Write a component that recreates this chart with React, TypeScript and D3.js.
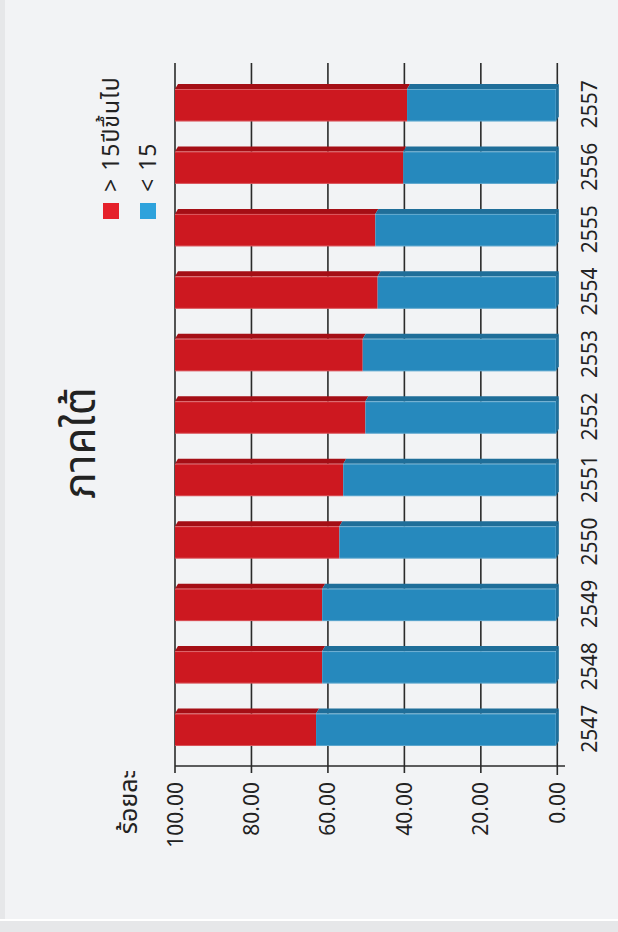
import React from "react";
import * as d3 from "d3";

const categories = ["2547", "2548", "2549", "2550", "2551", "2552", "2553", "2554", "2555", "2556", "2557"];
const under15 = [63.1, 61.5, 61.5, 57.0, 56.0, 50.2, 50.9, 47.0, 47.6, 40.3, 39.3];
const valueTicks = [0, 20, 40, 60, 80, 100];
const seriesNames = ["> 15ปีขึ้นไป", "< 15"];
const titleText = "ภาคใต้";
const axisTitle = "ร้อยละ";

const W = 618;
const H = 932;
const FONT = "'Noto Sans', 'Noto Sans Thai', 'Open Sans', sans-serif";

export default function App() {
  const x = d3.scaleLinear().domain([0, 100]).range([557.3, 175]);
  const y = d3
    .scaleBand<string>()
    .domain([...categories].reverse())
    .range([74, 761])
    .paddingInner(0.48)
    .paddingOuter(0.24);
  const bw = y.bandwidth();
  const dx = 3;
  const dy = -5;

  const redMain = "#cd1820";
  const redDark = "#a50e15";
  const blueMain = "#2689bd";
  const blueDark = "#1f6e99";

  const para = (x0: number, x1: number, yt: number) =>
    `M${x0},${yt} L${x1},${yt} L${x1 + dx},${yt + dy} L${x0 + dx},${yt + dy} Z`;

  return (
    <svg
      width={W}
      height={H}
      style={{ position: "absolute", left: 0, top: 0, display: "block" }}
      fontFamily={FONT}
    >
      <rect x={0} y={0} width={W} height={H} fill="#f2f3f5" />
      <rect x={0} y={0} width={5} height={H} fill="#e6e7e9" />
      <rect x={0} y={919} width={W} height={2} fill="#ffffff" />
      <rect x={0} y={921} width={W} height={H - 921} fill="#e6e7e9" />

      {/* gridlines */}
      {valueTicks.map((t) => (
        <line
          key={"g" + t}
          x1={x(t)}
          x2={x(t)}
          y1={63}
          y2={t === 0 ? 775 : 773}
          stroke="#2a2a2a"
          strokeWidth={1.6}
        />
      ))}
      <line x1={x(100)} x2={565} y1={766} y2={766} stroke="#2a2a2a" strokeWidth={1.6} />

      {/* bars */}
      {categories.map((c, i) => {
        const yt = y(c)!;
        const xb = x(under15[i]);
        const x0 = x(100);
        const xz = x(0) - 1.5;
        return (
          <g key={c}>
            <path d={para(x0, xb, yt)} fill={redDark} />
            <path d={para(xb, xz, yt)} fill={blueDark} />
            <path
              d={`M${xz},${yt} L${xz + dx},${yt + dy} L${xz + dx},${yt + bw + dy} L${xz},${yt + bw} Z`}
              fill={blueDark}
            />
            <rect x={x0} y={yt} width={xb - x0} height={bw} fill={redMain} />
            <rect x={xb} y={yt} width={xz - xb} height={bw} fill={blueMain} />
            <line x1={x0} x2={xz} y1={yt + 0.5} y2={yt + 0.5} stroke="#ffffff" strokeOpacity={0.3} strokeWidth={1} />
            <line x1={x0} x2={xz} y1={yt + bw - 0.5} y2={yt + bw - 0.5} stroke="#ffffff" strokeOpacity={0.25} strokeWidth={1} />
          </g>
        );
      })}

      {/* value tick labels */}
      {valueTicks.map((t) => (
        <text
          key={"t" + t}
          transform={`translate(${x(t)},782) rotate(-90)`}
          textAnchor="end"
          dy="0.36em"
          fontSize={21}
          fill="#222"
        >
          {d3.format(".2f")(t)}
        </text>
      ))}

      {/* category labels */}
      {categories.map((c) => (
        <text
          key={"c" + c}
          transform={`translate(597,${y(c)! + bw / 2 - 1}) rotate(-90)`}
          textAnchor="middle"
          fontSize={21}
          fill="#222"
        >
          {c}
        </text>
      ))}

      {/* axis title */}
      <text
        transform={`translate(137,770) rotate(-90)`}
        textAnchor="end"
        fontSize={25}
        fill="#222"
      >
        {axisTitle}
      </text>

      {/* chart title */}
      <text
        transform={`translate(95,443) rotate(-90)`}
        textAnchor="middle"
        fontSize={44}
        fill="#222"
      >
        {titleText}
      </text>

      {/* legend */}
      {seriesNames.map((s, i) => {
        const cx = 111 + i * 37;
        return (
          <g key={s}>
            <rect x={cx - 8} y={203} width={16} height={16} fill={i === 0 ? "#e5202a" : "#2ea2dc"} />
            <text
              transform={`translate(${cx + 8},192) rotate(-90)`}
              textAnchor="start"
              fontSize={23}
              letterSpacing={1}
              fill="#222"
            >
              {s}
            </text>
          </g>
        );
      })}
    </svg>
  );
}
